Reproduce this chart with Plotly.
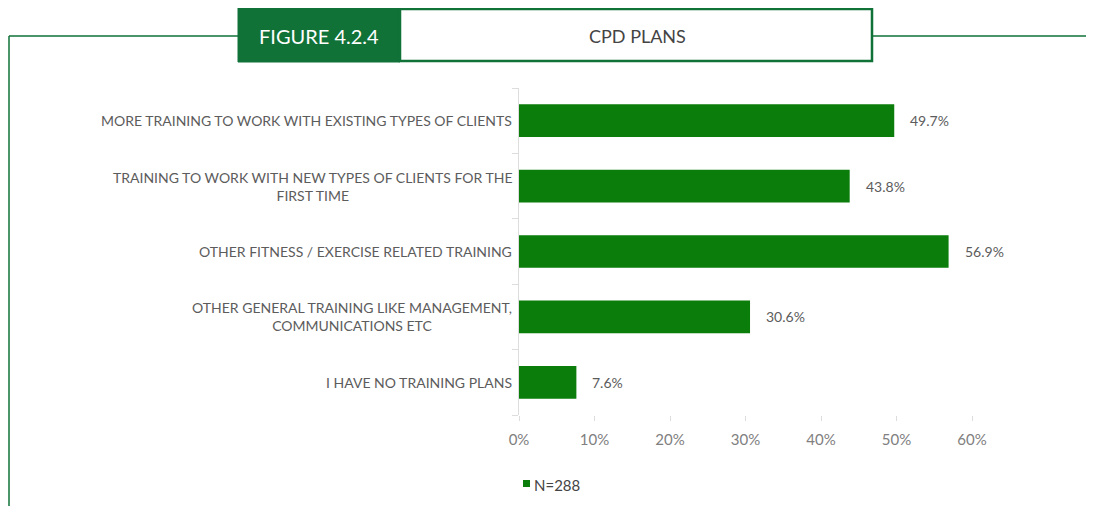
import plotly.graph_objects as go

categories = [
    "MORE TRAINING TO WORK WITH EXISTING TYPES OF CLIENTS",
    "TRAINING TO WORK WITH NEW TYPES OF CLIENTS FOR THE<br>FIRST TIME",
    "OTHER FITNESS / EXERCISE RELATED TRAINING",
    "OTHER GENERAL TRAINING LIKE MANAGEMENT,<br>COMMUNICATIONS ETC",
    "I HAVE NO TRAINING PLANS",
]
values = [49.7, 43.8, 56.9, 30.6, 7.6]
series_name = "N=288"
x_ticks = [0, 10, 20, 30, 40, 50, 60]
x_tick_labels = ["0%", "10%", "20%", "30%", "40%", "50%", "60%"]
figure_label = "FIGURE 4.2.4"
title = "CPD PLANS"

OFF = 8  # page body margin
W, H = 1094 - OFF, 506 - OFF
L, R, T, B = 519 - OFF, 972 - OFF, 88 - OFF, 415 - OFF
BAR = "#0a7d0a"
HEAD = "#117238"
TXT = "#5c5c5c"
FONT = "Lato"

def px(x):
    return (x - OFF - L) / (R - L)

def py(y):
    return (B - (y - OFF)) / (B - T)

fig = go.Figure()
fig.add_trace(go.Bar(
    y=list(range(len(categories))), x=values, orientation="h",
    marker=dict(color=BAR, line=dict(width=0)), width=0.5,
    name=series_name, showlegend=False,
))

annotations = []
for i, c in enumerate(categories):
    annotations.append(dict(
        x=px(514), xref="paper", y=i, yref="y", text=c, showarrow=False,
        xanchor="right", yanchor="middle", align="center",
        font=dict(color=TXT, size=14, family=FONT),
    ))
for i, v in enumerate(values):
    annotations.append(dict(
        x=v, xref="x", y=i, yref="y", text=f"{v}%", showarrow=False,
        xanchor="left", yanchor="middle", xshift=14,
        font=dict(color=TXT, size=14, family=FONT),
    ))

annotations.append(dict(x=px(319), y=py(36), xref="paper", yref="paper",
    text=figure_label, showarrow=False, xanchor="center", yanchor="middle",
    font=dict(color="white", size=20, family=FONT)))
annotations.append(dict(x=px(637), y=py(36), xref="paper", yref="paper",
    text=title, showarrow=False, xanchor="center", yanchor="middle",
    font=dict(color="#444444", size=18, family=FONT)))
annotations.append(dict(x=px(532), y=py(485), xref="paper", yref="paper",
    text=series_name, showarrow=False, xanchor="left", yanchor="middle",
    font=dict(color="#444444", size=15, family=FONT)))

shapes = [
    dict(type="line", xref="paper", yref="paper", x0=px(9), x1=px(238), y0=py(36), y1=py(36),
         line=dict(color=HEAD, width=1.5)),
    dict(type="line", xref="paper", yref="paper", x0=px(872), x1=px(1100), y0=py(36), y1=py(36),
         line=dict(color=HEAD, width=1.5)),
    dict(type="line", xref="paper", yref="paper", x0=px(9), x1=px(9), y0=py(36), y1=py(510),
         line=dict(color=HEAD, width=1.5)),
    dict(type="rect", xref="paper", yref="paper", x0=px(238), x1=px(400), y0=py(8), y1=py(62),
         fillcolor=HEAD, line=dict(color=HEAD, width=1)),
    dict(type="rect", xref="paper", yref="paper", x0=px(400), x1=px(872), y0=py(9), y1=py(61),
         fillcolor="white", line=dict(color=HEAD, width=2.5)),
    dict(type="rect", xref="paper", yref="paper", x0=px(523), x1=px(530), y0=py(480), y1=py(487),
         fillcolor=BAR, line=dict(width=0)),
]

fig.update_layout(
    width=W, height=H,
    margin=dict(l=L, r=W - R, t=T, b=H - B, autoexpand=False),
    paper_bgcolor="white", plot_bgcolor="white",
    font=dict(family=FONT, color=TXT),
    xaxis=dict(range=[0, 60], tickvals=x_ticks, ticktext=x_tick_labels,
               showgrid=False, zeroline=False, showline=False,
               ticks="outside", ticklen=5, tickcolor="#dddddd", ticklabelstandoff=6,
               tickfont=dict(size=15, color="#808080", family=FONT)),
    yaxis=dict(range=[len(categories) - 0.5, -0.5], tickvals=[i - 0.5 for i in range(len(categories) + 1)],
               showticklabels=False, showgrid=False, zeroline=False,
               showline=True, linecolor="#dddddd", linewidth=1,
               ticks="outside", ticklen=6, tickcolor="#dddddd"),
    showlegend=False,
    annotations=annotations, shapes=shapes,
)

fig.write_html("out.html")
